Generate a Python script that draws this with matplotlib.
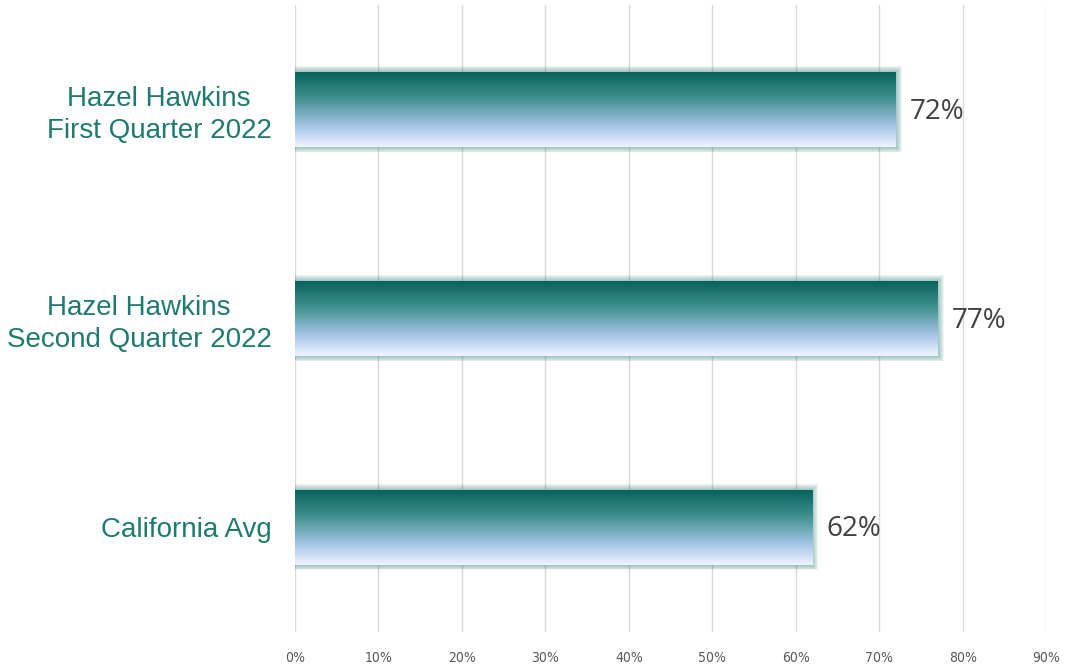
import matplotlib
matplotlib.use("Agg")
import matplotlib.pyplot as plt
import numpy as np
from matplotlib.colors import LinearSegmentedColormap
from matplotlib.patches import Rectangle

categories = ["Hazel Hawkins\nFirst Quarter 2022",
              "Hazel Hawkins\nSecond Quarter 2022",
              "California Avg"]
values = [72, 77, 62]
value_labels = ["72%", "77%", "62%"]
xticks = [0, 10, 20, 30, 40, 50, 60, 70, 80, 90]
xtick_labels = ["0%", "10%", "20%", "30%", "40%", "50%", "60%", "70%", "80%", "90%"]

fig = plt.figure(figsize=(10.72, 6.70), dpi=100)
ax = fig.add_axes([0.2752, 0.057, 0.7006, 0.9355])

ypos = np.arange(len(categories))
bar_h = 0.36
bars = ax.barh(ypos, values, height=bar_h, color="none", edgecolor="none", zorder=3)

ax.set_xlim(0, 90)
ax.set_ylim(len(categories) - 0.5, -0.5)

cmap = LinearSegmentedColormap.from_list(
    "grad", [(0.0, "#03625a"), (0.35, "#3f8f8f"), (0.75, "#abc9ea"), (1.0, "#f0f5fd")])
grad = np.linspace(0, 1, 256).reshape(-1, 1)

# pixel -> data conversion for glow
px_x = 90.0 / (0.7006 * 1072)
px_y = 3.0 / (0.9355 * 670)

for b in bars:
    x0, y0 = b.get_x(), b.get_y()
    w, h = b.get_width(), b.get_height()
    # soft glow
    for k in range(6, 0, -1):
        r = Rectangle((x0, y0 - k * px_y * 0.9), w + k * px_x, h + 2 * k * px_y * 0.9,
                      facecolor="#1f766c", edgecolor="none", alpha=0.08, zorder=2)
        ax.add_patch(r)
    im = ax.imshow(grad, cmap=cmap, aspect="auto", extent=(x0, x0 + w, y0 + h, y0),
                   zorder=3, interpolation="bicubic")
    clip = Rectangle((x0, y0), w, h, transform=ax.transData)
    im.set_clip_path(clip)

ax.set_xlim(0, 90)
ax.set_ylim(len(categories) - 0.5, -0.5)

for b, lbl in zip(bars, value_labels):
    ax.text(b.get_width() + 1.7, b.get_y() + b.get_height() / 2 + 0.01, lbl,
            ha="left", va="center", fontsize=20, color="#404040",
            family="Open Sans", zorder=5)

ax.set_xticks(xticks)
ax.set_xticklabels(xtick_labels, fontsize=10, color="#595959",
                   family=["DejaVu Sans"], fontstretch="condensed")
ax.set_yticks(ypos)
ax.set_yticklabels(categories, fontsize=20, color="#1f7a70", family="Liberation Sans",
                   ha="right", multialignment="center", linespacing=1.3)
ax.tick_params(axis="y", length=0, pad=17)
ax.tick_params(axis="x", length=0, pad=14)
ax.xaxis.grid(True, color="#d9d9d9", linewidth=1.0, zorder=0)
ax.set_axisbelow(True)
for s in ax.spines.values():
    s.set_visible(False)

fig.savefig("out.png", dpi=100)
